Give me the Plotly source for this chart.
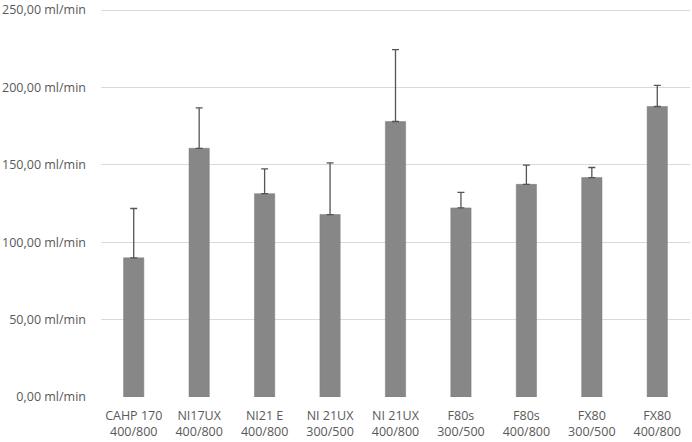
import plotly.graph_objs as go

# filter / setting labels and measured flow (ml/min)
categories = ["CAHP 170<br>400/800", "NI17UX<br>400/800", "NI21 E<br>400/800",
              "NI 21UX<br>300/500", "NI 21UX<br>400/800", "F80s<br>300/500",
              "F80s<br>400/800", "FX80<br>300/500", "FX80<br>400/800"]
flow_mean = [89.9, 160.7, 131.4, 117.9, 178.0, 122.2, 137.4, 141.8, 187.7]
flow_sd = [31.9, 26.1, 16.0, 33.4, 46.5, 10.0, 12.4, 6.5, 13.6]
y_ticks = [0, 50, 100, 150, 200, 250]
y_labels = ['{:.2f}'.format(v).replace('.', ',') + ' ml/min' for v in y_ticks]

fig = go.Figure()

fig.add_trace(go.Bar(x=categories,
                     y=flow_mean,
                     marker=dict(color='#878787', line=dict(color='#7a7a7a', width=0.5)),
                     error_y=dict(type='data', array=flow_sd, arrayminus=[0]*len(flow_sd),
                                  symmetric=False, color='#555555', thickness=1.3, width=3.5),
                     showlegend=False))

fig.update_layout(width=692, height=442,
                  margin=dict(l=100, r=2, t=4, b=44),
                  plot_bgcolor='white', paper_bgcolor='white',
                  bargap=0.69,
                  font=dict(family='Open Sans', size=12, color='#595959'))

fig.update_yaxes(range=[0, 252], tickmode='array', tickvals=y_ticks, ticktext=y_labels,
                 gridcolor='#d9d9d9', gridwidth=1, zeroline=False, showline=False,
                 ticks='', ticklabelstandoff=14, ticklabeloverflow='allow',
                 tickfont=dict(size=12.5))
fig.update_xaxes(showline=False, ticks='', tickfont=dict(size=12.5), ticklabelstandoff=9)

# the page body has a default 8px margin; drop it so the figure fills the window
fig.write_html("out.html", config={'displayModeBar': False},
               post_script="document.body.style.margin='0';")
